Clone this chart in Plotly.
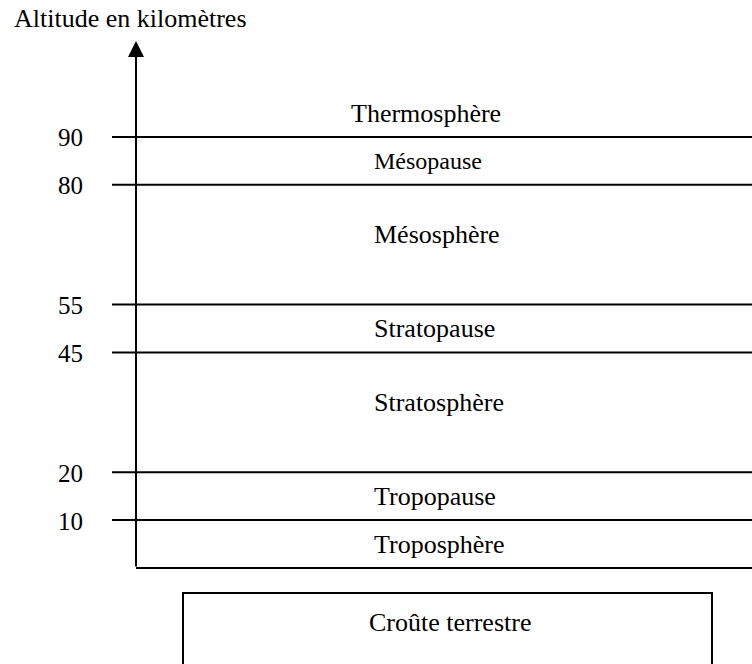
import plotly.graph_objects as go

# ---------------- data ----------------
boundary_altitudes = [10, 20, 45, 55, 80, 90]          # km, layer limits
tick_labels = ["10", "20", "45", "55", "80", "90"]
layer_names = ["Troposphère", "Tropopause", "Stratosphère", "Stratopause",
               "Mésosphère", "Mésopause", "Thermosphère"]
axis_title = "Altitude en kilomètres"
ground_label = "Croûte terrestre"

# ---------------- layout / style (schematic, non-linear drawing) ----------------
layer_draw_heights = [1, 1, 2.5, 1, 2.5, 1]   # drawing units per bounded layer
label_x = [372, 372, 372, 372, 372, 372, 349]
label_sizes = [26, 26, 26, 26, 26, 24, 26]
W, H = 752, 664
Y0 = 568.0      # pixel of ground line
U = 47.9        # pixels per drawing unit
FONT = "Liberation Serif"
AXIS_X = 136
LINE_X0 = 112

# cumulative drawing positions of the boundaries
pos = [0.0]
for h in layer_draw_heights:
    pos.append(pos[-1] + h)
boundary_pos = pos[1:]

fig = go.Figure()

# boundary lines (with tick stub to the left of the axis)
for p in boundary_pos:
    fig.add_trace(go.Scatter(x=[LINE_X0, W], y=[p, p], mode="lines",
                             line=dict(color="black", width=2),
                             hoverinfo="skip", showlegend=False))
# ground line
fig.add_trace(go.Scatter(x=[AXIS_X, W], y=[0, 0], mode="lines",
                         line=dict(color="black", width=2),
                         hoverinfo="skip", showlegend=False))

# ground box (open at the bottom, extends past the frame)
box_top = (Y0 - 593) / U
box_bottom = (Y0 - 700) / U
fig.add_trace(go.Scatter(x=[183, 183, 712, 712], y=[box_bottom, box_top, box_top, box_bottom],
                         mode="lines", line=dict(color="black", width=2),
                         hoverinfo="skip", showlegend=False))

annotations = []
# vertical axis with arrow
tip = (Y0 - 41) / U
annotations.append(dict(x=AXIS_X, y=tip, ax=AXIS_X, ay=0, xref="x", yref="y",
                        axref="x", ayref="y", text="", showarrow=True,
                        arrowhead=2, arrowwidth=2, arrowsize=1.6, arrowcolor="black",
                        standoff=0))
# axis title
annotations.append(dict(x=12, y=(Y0 - 18.5) / U, xref="x", yref="y", text=axis_title,
                        showarrow=False, xanchor="left", yanchor="middle",
                        font=dict(family=FONT, size=26, color="black")))
# tick labels
for p, t in zip(boundary_pos, tick_labels):
    annotations.append(dict(x=85, y=p, xref="x", yref="y", text=t, showarrow=False,
                            xanchor="right", yanchor="middle", yshift=-1,
                            font=dict(family=FONT, size=25, color="black")))
# layer labels
for i, name in enumerate(layer_names):
    bottom = pos[i]
    if i < len(layer_draw_heights):
        h = layer_draw_heights[i]
        ly = bottom + 0.5 if h <= 1 else bottom + h - 1.04
    else:
        ly = bottom + 0.48
    annotations.append(dict(x=label_x[i], y=ly, xref="x", yref="y", text=name,
                            showarrow=False, xanchor="left", yanchor="middle",
                            font=dict(family=FONT, size=label_sizes[i], color="black")))
# ground label
annotations.append(dict(x=367, y=(Y0 - 622.5) / U, xref="x", yref="y", text=ground_label,
                        showarrow=False, xanchor="left", yanchor="middle",
                        font=dict(family=FONT, size=26, color="black")))

fig.update_layout(
    width=W, height=H,
    margin=dict(l=0, r=0, t=0, b=0),
    paper_bgcolor="white", plot_bgcolor="white",
    xaxis=dict(range=[0, W], visible=False, fixedrange=True),
    yaxis=dict(range=[(Y0 - H) / U, Y0 / U], visible=False, fixedrange=True),
    annotations=annotations,
    showlegend=False,
)

fig.write_html("out.html", config={"displayModeBar": False},
               post_script="document.body.style.margin='0';document.body.style.overflow='hidden';")
